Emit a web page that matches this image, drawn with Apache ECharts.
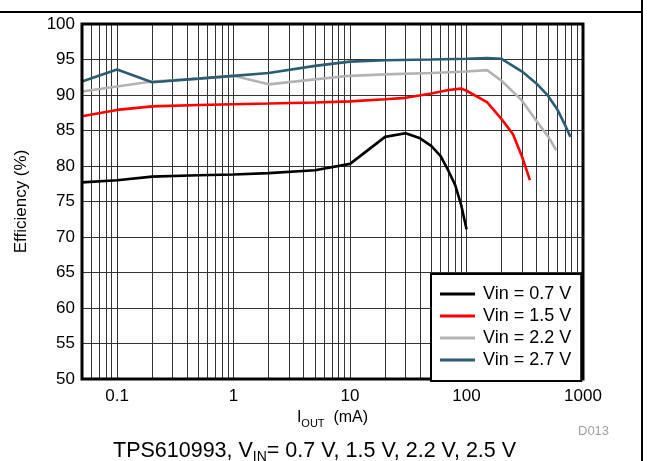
<!DOCTYPE html>
<html>
<head>
<meta charset="utf-8">
<script src="https://cdn.jsdelivr.net/npm/echarts@6/dist/echarts.min.js"></script>
<style>
html,body{margin:0;padding:0;background:#fff;}
#chart{width:649px;height:461px;}
</style>
</head>
<body>
<div id="chart"></div>
<script>
// ---- data (IOUT in mA, efficiency in %) ----
const seriesNames = ['Vin = 0.7 V', 'Vin = 1.5 V', 'Vin = 2.2 V', 'Vin = 2.7 V'];

const iout07 = [0.05, 0.1, 0.2, 0.5, 1, 2, 5, 10, 20, 30, 40, 50, 60, 70, 80, 90, 100];
const eff07  = [77.7, 78.0, 78.5, 78.7, 78.8, 79.0, 79.4, 80.3, 84.1, 84.6, 83.9, 82.8, 81.4, 79.3, 77.3, 74.5, 71.1];

const iout15 = [0.05, 0.1, 0.2, 0.5, 1, 2, 5, 10, 20, 30, 50, 70, 90, 100, 150, 200, 250, 300, 350];
const eff15  = [87.0, 87.9, 88.4, 88.6, 88.7, 88.8, 88.95, 89.1, 89.4, 89.6, 90.2, 90.7, 90.9, 90.6, 89.0, 86.6, 84.5, 81.3, 78.0];

const iout22 = [0.05, 0.1, 0.2, 0.5, 1, 2, 5, 10, 20, 50, 100, 150, 200, 300, 400, 500, 590];
const eff22  = [90.5, 91.2, 91.9, 92.3, 92.7, 91.5, 92.2, 92.7, 92.9, 93.1, 93.3, 93.5, 92.0, 89.2, 86.3, 84.2, 82.2];

const iout27 = [0.05, 0.1, 0.2, 0.5, 1, 2, 5, 10, 20, 50, 100, 150, 200, 300, 400, 500, 600, 700, 780];
const eff27  = [91.9, 93.6, 91.8, 92.3, 92.7, 93.1, 94.1, 94.7, 94.9, 95.0, 95.1, 95.2, 95.1, 93.3, 91.6, 89.9, 88.0, 85.8, 84.1];

// axis ticks
const xMin = 0.05, xMax = 1000;
const yMin = 50, yMax = 100, yStep = 5;
const xTickLabels = ['0.1', '1', '10', '100', '1000'];
const xGridValues = [0.06, 0.07, 0.08, 0.09,
  0.1, 0.2, 0.3, 0.4, 0.5, 0.6, 0.7, 0.8, 0.9,
  1, 2, 3, 4, 5, 6, 7, 8, 9,
  10, 20, 30, 40, 50, 60, 70, 80, 90,
  100, 200, 300, 400, 500, 600, 700, 800, 900];

const colors = ['#000000', '#ff0000', '#b3b3b3', '#2c5d74'];
const FONT = '"Liberation Sans", Arial, sans-serif';

const pairs = (xs, ys) => xs.map((x, i) => [x, ys[i]]);
const allData = [pairs(iout07, eff07), pairs(iout15, eff15), pairs(iout22, eff22), pairs(iout27, eff27)];

const chart = echarts.init(document.getElementById('chart'), null, {renderer: 'canvas'});

const lineSeries = allData.map((d, i) => ({
  name: seriesNames[i],
  type: 'line',
  data: d,
  symbol: 'none',
  showSymbol: false,
  z: 5,
  lineStyle: {color: colors[i], width: 2.6},
  itemStyle: {color: colors[i]},
  animation: false
}));

const gridSeries = {
  name: '_grid',
  type: 'line',
  data: [],
  z: 1,
  silent: true,
  animation: false,
  markLine: {
    silent: true,
    symbol: 'none',
    animation: false,
    label: {show: false},
    lineStyle: {color: '#333', width: 1, type: 'solid'},
    data: xGridValues.map(v => ({xAxis: v}))
  }
};

chart.setOption({
  animation: false,
  backgroundColor: '#fff',
  textStyle: {fontFamily: FONT},
  grid: {left: 82, right: 66, top: 24, bottom: 82, show: true, borderColor: '#000', borderWidth: 3, backgroundColor: 'transparent', z: 10},
  xAxis: {
    type: 'log',
    logBase: 10,
    min: xMin,
    max: xMax,
    axisLine: {show: false},
    axisTick: {show: false},
    splitLine: {show: false},
    axisLabel: {
      color: '#000', fontSize: 17, fontFamily: FONT, margin: 9, showMinLabel: false,
      formatter: v => {
        const s = String(+Number(v).toPrecision(3));
        return xTickLabels.indexOf(s) >= 0 ? s : '';
      }
    },
    name: '{a|I}{s|OUT}{a|  (mA)}',
    nameLocation: 'middle',
    nameGap: 27,
    nameTextStyle: {
      color: '#000',
      rich: {
        a: {fontSize: 16, fontFamily: FONT, color: '#000', lineHeight: 16, verticalAlign: 'top'},
        s: {fontSize: 11, fontFamily: FONT, color: '#000', lineHeight: 11, verticalAlign: 'top', padding: [9, 0, 0, 0]}
      }
    }
  },
  yAxis: {
    type: 'value',
    min: yMin,
    max: yMax,
    interval: yStep,
    axisLine: {show: false},
    axisTick: {show: false},
    splitLine: {show: true, lineStyle: {color: '#333', width: 1}},
    axisLabel: {color: '#000', fontSize: 17, fontFamily: FONT, margin: 7},
    name: 'Efficiency (%)',
    nameLocation: 'middle',
    nameGap: 52,
    nameTextStyle: {color: '#000', fontSize: 17, fontFamily: FONT}
  },
  legend: {
    data: seriesNames,
    orient: 'vertical',
    left: 431,
    top: 274,
    icon: 'rect',
    itemWidth: 35,
    itemHeight: 3,
    itemGap: 4,
    padding: [11, 10, 12, 9],
    backgroundColor: '#fff',
    borderColor: '#000',
    borderWidth: 2,
    textStyle: {color: '#000', fontSize: 18, fontFamily: FONT, padding: [0, 0, 0, 3], lineHeight: 17},
    z: 20
  },
  series: [gridSeries].concat(lineSeries),
  graphic: [
    {type: 'line', shape: {x1: 0, y1: 12, x2: 642, y2: 12}, style: {stroke: '#000', lineWidth: 2}, z: 30},
    {type: 'line', shape: {x1: 642, y1: 0, x2: 642, y2: 461}, style: {stroke: '#000', lineWidth: 2}, z: 30},
    {type: 'text', left: 578, top: 425, style: {text: 'D013', fill: '#a0a0a0', font: '13px ' + FONT}, z: 30},
    {
      type: 'text', left: 113, top: 440,
      style: {
        text: '{a|TPS610993, V}{s|IN}{a|= 0.7 V, 1.5 V, 2.2 V, 2.5 V}',
        rich: {
          a: {fontSize: 21.5, fontFamily: FONT, fill: '#000', lineHeight: 21, verticalAlign: 'top'},
          s: {fontSize: 14, fontFamily: FONT, fill: '#000', lineHeight: 14, verticalAlign: 'top', padding: [10, 0, 0, 0]}
        }
      },
      z: 30
    }
  ]
});
</script>
</body>
</html>
